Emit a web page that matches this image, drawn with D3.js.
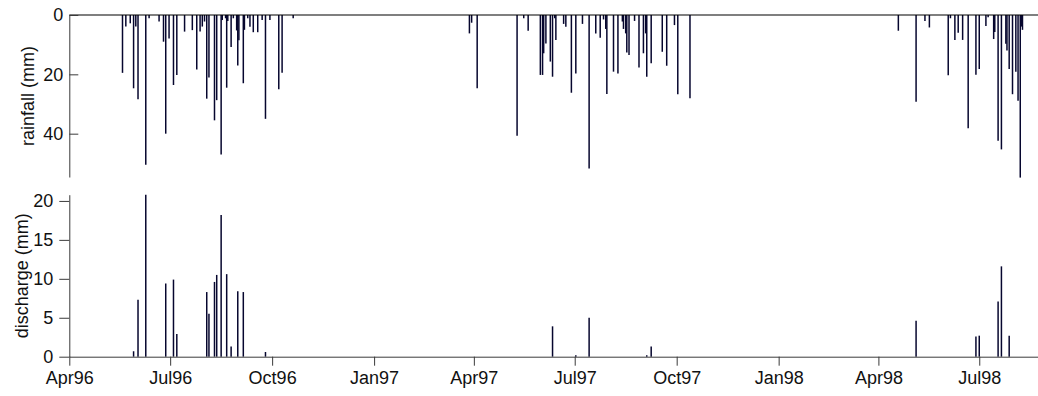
<!DOCTYPE html>
<html>
<head>
<meta charset="utf-8">
<script src="https://cdn.jsdelivr.net/npm/d3@7"></script>
<style>
  html, body { margin: 0; padding: 0; background: #fff; }
  svg { display: block; }
  text { font-family: "Liberation Sans", Arial, Helvetica, sans-serif; fill: #111; }
</style>
</head>
<body>
<svg id="chart" width="1038" height="396"></svg>
<script>
// ---- data ----
const rainDates = [
  "1996-05-19","1996-05-22","1996-05-26","1996-05-29","1996-05-31","1996-06-02","1996-06-09","1996-06-12",
  "1996-06-21","1996-06-25","1996-06-27","1996-06-30","1996-07-04","1996-07-07","1996-07-14","1996-07-21",
  "1996-07-25","1996-07-28","1996-07-30","1996-08-01","1996-08-03","1996-08-05","1996-08-10","1996-08-12",
  "1996-08-16","1996-08-17","1996-08-20","1996-08-21","1996-08-22","1996-08-25","1996-08-27","1996-08-30",
  "1996-08-31","1996-09-01","1996-09-05","1996-09-06","1996-09-09","1996-09-11","1996-09-14","1996-09-18",
  "1996-09-22","1996-09-25","1996-09-29","1996-10-07","1996-10-10","1996-10-20",
  "1997-03-28","1997-03-30","1997-04-04","1997-05-10","1997-05-16","1997-05-20","1997-05-31","1997-06-02",
  "1997-06-03","1997-06-05","1997-06-09","1997-06-11","1997-06-13","1997-06-14","1997-06-21","1997-06-23",
  "1997-06-28","1997-07-02","1997-07-08","1997-07-14","1997-07-20","1997-07-24","1997-07-27","1997-07-29",
  "1997-07-30","1997-08-05","1997-08-09","1997-08-13","1997-08-14","1997-08-16","1997-08-17","1997-08-19",
  "1997-08-24","1997-08-28","1997-09-01","1997-09-03","1997-09-04","1997-09-08","1997-09-18","1997-09-22",
  "1997-09-29","1997-10-02","1997-10-13",
  "1998-04-19","1998-05-05","1998-05-13","1998-05-17","1998-06-03","1998-06-05","1998-06-09","1998-06-12",
  "1998-06-16","1998-06-21","1998-06-28","1998-07-01","1998-07-07","1998-07-09","1998-07-14","1998-07-15",
  "1998-07-18","1998-07-21","1998-07-25","1998-07-26","1998-07-28","1998-07-31","1998-08-03","1998-08-05",
  "1998-08-07","1998-08-08","1998-08-09"
];
const rainValues = [
  19.5,3.9,2.8,24.7,3.9,28.4,50.5,1.1,
  2.2,9.0,40.0,7.9,23.6,20.2,5.6,5.1,
  18.4,5.6,3.9,2.2,28.2,21.1,35.5,28.7,
  47.0,1.7,1.1,24.5,2.0,10.8,1.1,5.2,
  17.0,8.5,23.0,5.0,1.1,4.0,5.8,5.8,
  1.7,35.0,1.7,25.0,19.5,1.1,
  6.2,2.6,24.7,40.7,1.1,5.3,20.2,20.2,
  12.9,9.6,15.7,20.8,1.1,8.4,3.0,4.0,
  26.2,19.7,3.0,51.7,6.2,7.7,1.5,4.7,
  26.6,19.1,19.7,2.2,4.7,6.2,12.6,13.5,
  2.0,17.7,12.9,6.2,20.8,16.3,12.4,17.1,
  3.4,26.7,28.1,
  5.3,29.2,2.0,4.2,20.3,1.1,8.4,6.0,
  8.4,38.2,20.1,18.2,3.7,0.8,8.1,5.7,
  42.4,45.3,9.7,12.0,18.2,26.7,19.1,28.9,
  54.8,3.9,5.0
];
const dischargeDates = [
  "1996-05-29","1996-06-02","1996-06-09","1996-06-27","1996-07-04","1996-07-07","1996-08-03","1996-08-05",
  "1996-08-10","1996-08-12","1996-08-16","1996-08-21","1996-08-25","1996-08-31","1996-09-05","1996-09-25",
  "1997-06-11","1997-07-02","1997-07-14","1997-09-04","1997-09-08",
  "1998-05-05","1998-06-28","1998-07-01","1998-07-18","1998-07-21","1998-07-28"
];
const dischargeValues = [
  0.7,7.3,20.8,9.4,9.9,2.9,8.3,5.5,
  9.6,10.5,18.2,10.6,1.3,8.4,8.3,0.6,
  3.9,0.2,5.0,0.2,1.3,
  4.6,2.6,2.7,7.1,11.6,2.7
];
const rainTicks = [0, 20, 40];
const dischargeTicks = [0, 5, 10, 15, 20];
const dateRange = ["1996-04-01", "1998-08-23"];
const rainLabel = "rainfall (mm)";
const dischargeLabel = "discharge (mm)";

// ---- drawing ----
const parse = d3.utcParse("%Y-%m-%d");
const svg = d3.select("#chart");
const barColor = "#06062e";
const axisColor = "#3a3a3a";
const fontSize = 18;
const fontFam = '"Liberation Sans", Arial, sans-serif';

const x = d3.scaleUtc().domain(dateRange.map(parse)).range([69.3, 1038]);

// top panel (rainfall, inverted)
const yR = d3.scaleLinear().domain([0, 54.6]).range([15, 177]);
// bottom panel (discharge)
const yD = d3.scaleLinear().domain([0, 20.8]).range([356.7, 194.7]);

const rain = rainDates.map((d, i) => ({ date: parse(d), v: rainValues[i] }));
const dis = dischargeDates.map((d, i) => ({ date: parse(d), v: dischargeValues[i] }));

// rainfall bars
svg.append("g").selectAll("line").data(rain).join("line")
  .attr("x1", d => x(d.date)).attr("x2", d => x(d.date))
  .attr("y1", yR(0)).attr("y2", d => yR(d.v))
  .attr("stroke", barColor).attr("stroke-width", 1.5);

// rainfall top baseline
svg.append("line")
  .attr("x1", x.range()[0]).attr("x2", x.range()[1])
  .attr("y1", yR(0)).attr("y2", yR(0))
  .attr("stroke", "#000").attr("stroke-width", 1.2);

// rainfall left axis (ticks inward)
const gR = svg.append("g").attr("transform", `translate(${x.range()[0]},0)`)
  .call(d3.axisLeft(yR).tickValues(rainTicks).tickSizeInner(-9).tickSizeOuter(0).tickPadding(6));
gR.select(".domain").attr("stroke", axisColor);
gR.selectAll(".tick line").attr("stroke", axisColor);
gR.selectAll(".tick text").attr("x", -6).style("font-size", fontSize + "px").attr("fill", "#111")
  .style("font-family", fontFam);

// discharge bars
svg.append("g").selectAll("line").data(dis).join("line")
  .attr("x1", d => x(d.date)).attr("x2", d => x(d.date))
  .attr("y1", yD(0)).attr("y2", d => yD(d.v))
  .attr("stroke", barColor).attr("stroke-width", 1.5);

// discharge left axis (outward ticks)
const gD = svg.append("g").attr("transform", `translate(${x.range()[0]},0)`)
  .call(d3.axisLeft(yD).tickValues(dischargeTicks).tickSizeInner(10).tickSizeOuter(0).tickPadding(6));
gD.select(".domain").attr("stroke", axisColor);
gD.selectAll(".tick line").attr("stroke", axisColor);
gD.selectAll(".tick text").style("font-size", fontSize + "px").attr("fill", "#111")
  .style("font-family", fontFam);

// bottom time axis
const gX = svg.append("g").attr("transform", `translate(0,${yD(0)})`)
  .call(d3.axisBottom(x).ticks(d3.utcMonth.every(3)).tickFormat(d3.utcFormat("%b%y"))
    .tickSizeInner(9).tickSizeOuter(0).tickPadding(6));
gX.select(".domain").attr("stroke", axisColor);
gX.selectAll(".tick line").attr("stroke", axisColor);
gX.selectAll(".tick text").style("font-size", fontSize + "px").attr("fill", "#111")
  .style("font-family", fontFam);

// y labels
svg.append("text")
  .attr("transform", `translate(34,${(yR.range()[0] + yR.range()[1]) / 2}) rotate(-90)`)
  .attr("text-anchor", "middle").style("font-size", fontSize + "px")
  .text(rainLabel);
svg.append("text")
  .attr("transform", `translate(28,${(yD.range()[0] + yD.range()[1]) / 2}) rotate(-90)`)
  .attr("text-anchor", "middle").style("font-size", fontSize + "px")
  .text(dischargeLabel);
</script>
</body>
</html>
